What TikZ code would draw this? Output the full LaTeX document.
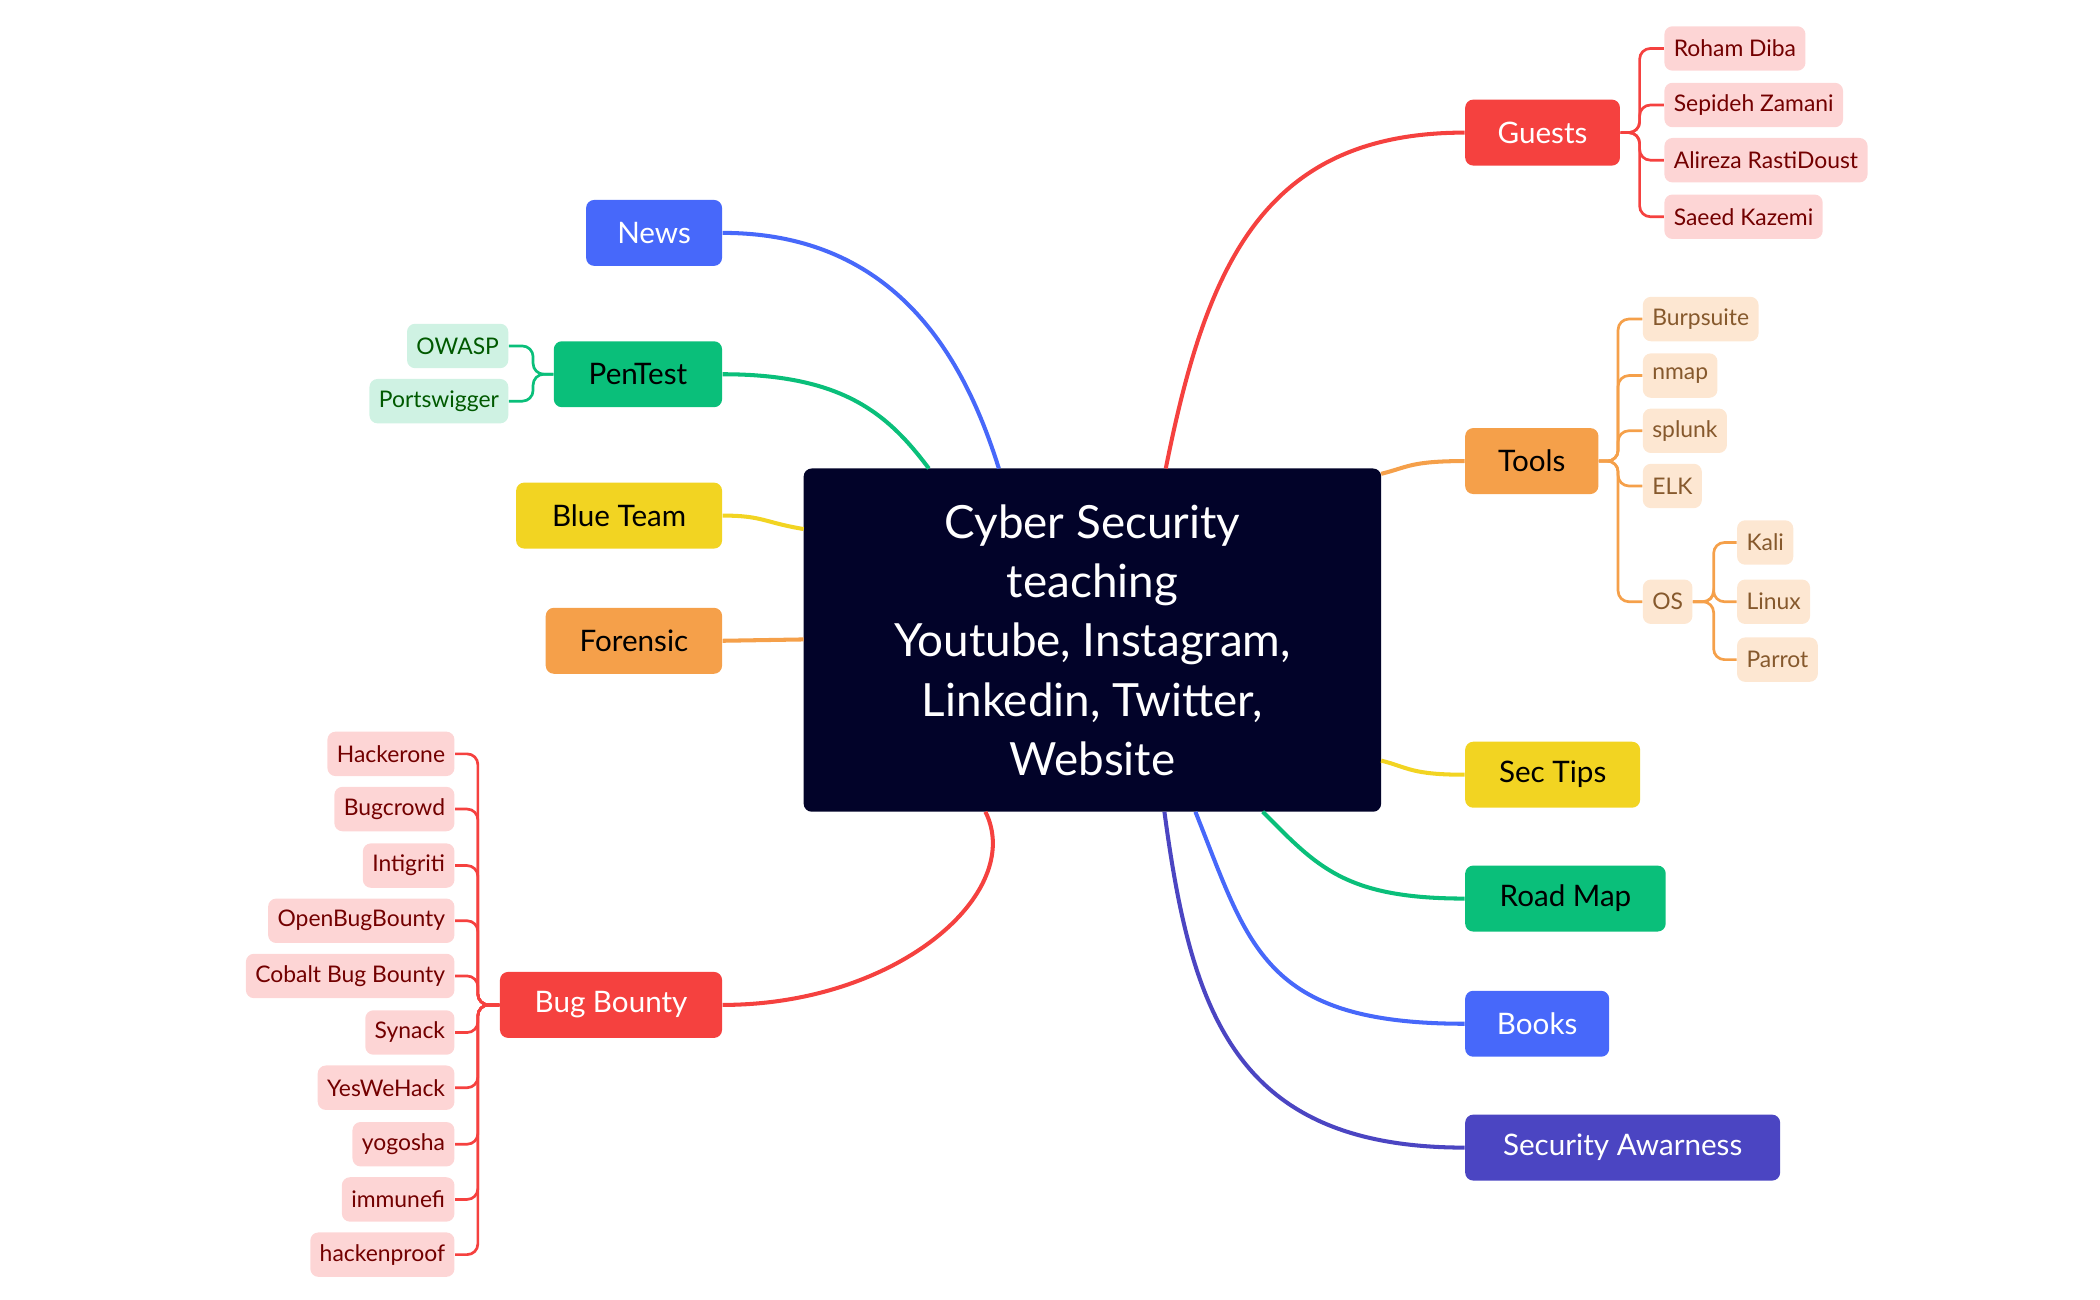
\documentclass[tikz,border=0pt]{standalone}
\usepackage{fontspec}
\setmainfont{Lato}
\definecolor{cred}{HTML}{F5413F}
\definecolor{cblue}{HTML}{4768FA}
\definecolor{cgreen}{HTML}{0ABF7A}
\definecolor{cyel}{HTML}{F2D422}
\definecolor{corg}{HTML}{F5A04A}
\definecolor{cind}{HTML}{4B45C2}
\definecolor{cnavy}{HTML}{020329}
\definecolor{lred}{HTML}{FDD5D5}
\definecolor{lorg}{HTML}{FDE7D2}
\definecolor{lgreen}{HTML}{CFF2E3}
\begin{document}
\begin{tikzpicture}[x=0.5pt,y=-0.5pt,
 main/.style={rounded corners=3pt,minimum height=24.5pt,font=\fontsize{11}{13}\selectfont,inner sep=0pt,anchor=west},
 leaf/.style={rounded corners=3pt,minimum height=16.5pt,font=\fontsize{8.5}{10}\selectfont,inner xsep=3.5pt,inner ysep=0pt},
 rl/.style={leaf,fill=lred,text=red!45!black,anchor=west},
 rlr/.style={leaf,fill=lred,text=red!45!black,anchor=east},
 ol/.style={leaf,fill=lorg,text=brown!70!black,anchor=west},
 gl/.style={leaf,fill=lgreen,text=green!35!black,anchor=east},
 con/.style={line width=1.5pt},
 br/.style={line width=1pt,rounded corners=4pt}]
\useasboundingbox (0,0) rectangle (1560,965);
% center
\node[fill=cnavy,text=white,rounded corners=3pt,minimum width=214.5pt,minimum height=127.5pt,align=center,font=\fontsize{17}{22}\selectfont,inner sep=0pt] (c) at (811.5,475.5) {Cyber Security\\teaching\\Youtube, Instagram,\\Linkedin, Twitter,\\Website};
% main nodes
\node[main,fill=cblue,text=white,minimum width=50.5pt] (news) at (435,173) {News};
\node[main,fill=cgreen,text=black,minimum width=62.5pt] (pen) at (411,278) {PenTest};
\node[main,fill=cyel,text=black,minimum width=76.5pt] (blue) at (383,383) {Blue Team};
\node[main,fill=corg,text=black,minimum width=65.5pt] (for) at (405,476) {Forensic};
\node[main,fill=cred,text=white,minimum width=82.5pt] (bug) at (371,746.5) {Bug Bounty};
\node[main,fill=cred,text=white,minimum width=57.5pt] (guests) at (1088,98.5) {Guests};
\node[main,fill=corg,text=black,minimum width=49.5pt] (tools) at (1088,342.5) {Tools};
\node[main,fill=cyel,text=black,minimum width=65pt] (sec) at (1088,575.5) {Sec Tips};
\node[main,fill=cgreen,text=black,minimum width=74.5pt] (road) at (1088,667.5) {Road Map};
\node[main,fill=cblue,text=white,minimum width=53.5pt] (books) at (1088,760.5) {Books};
\node[main,fill=cind,text=white,minimum width=117pt] (sa) at (1088,852.5) {Security Awarness};
% connectors
\coordinate (cN) at (742,348); \coordinate (cP) at (690,348); \coordinate (cB) at (597,393);
\coordinate (cF) at (597,475); \coordinate (cBB) at (732,603); \coordinate (cG) at (866,348);
\coordinate (cT) at (1026,352); \coordinate (cS) at (1026,565); \coordinate (cR) at (938,603);
\coordinate (cBo) at (888,603); \coordinate (cSA) at (865,603);
\draw[con,cblue] (news.east) .. controls +(130,0) and +(-25,-80) .. (cN);
\draw[con,cgreen] (pen.east) .. controls +(90,0) and +(-30,-40) .. (cP);
\draw[con,cyel] (blue.east) .. controls +(30,0) and +(-30,-5) .. (cB);
\draw[con,corg] (for.east) -- (cF);
\draw[con,cred] (bug.east) .. controls +(130,0) and +(30,60) .. (cBB);
\draw[con,cred] (guests.west) .. controls +(-150,0) and +(30,-150) .. (cG);
\draw[con,corg] (tools.west) .. controls +(-40,0) and +(20,-5) .. (cT);
\draw[con,cyel] (sec.west) .. controls +(-40,0) and +(20,5) .. (cS);
\draw[con,cgreen] (road.west) .. controls +(-90,0) and +(40,40) .. (cR);
\draw[con,cblue] (books.west) .. controls +(-150,0) and +(40,100) .. (cBo);
\draw[con,cind] (sa.west) .. controls +(-170,0) and +(20,150) .. (cSA);
% guests
\foreach \n/\t/\y in {g1/Roham Diba/36,g2/Sepideh Zamani/78,g3/Alireza RastiDoust/119,g4/Saeed Kazemi/161}{
 \node[rl] (\n) at (1236,\y) {\t};
 \draw[br,cred] (guests.east) -- (1218,98.5) |- (\n.west);}
% tools
\foreach \n/\t/\y in {t1/Burpsuite/237,t2/nmap/279,t3/splunk/320,t4/ELK/361,os/OS/447}{
 \node[ol] (\n) at (1220,\y) {\t};
 \draw[br,corg] (tools.east) -- (1202,342.5) |- (\n.west);}
\foreach \n/\t/\y in {o1/Kali/403,o2/Linux/447,o3/Parrot/490}{
 \node[ol] (\n) at (1290,\y) {\t};
 \draw[br,corg] (os.east) -- (1273,447) |- (\n.west);}
% pentest
\foreach \n/\t/\y in {p1/OWASP/257,p2/Portswigger/298}{
 \node[gl] (\n) at (378,\y) {\t};
 \draw[br,cgreen] (pen.west) -- (396,278) |- (\n.east);}
% bug bounty
\foreach \n/\t/\y in {b1/Hackerone/560,b2/Bugcrowd/601,b3/Intigriti/643,b4/OpenBugBounty/684,b5/Cobalt Bug Bounty/725,b6/Synack/767,b7/YesWeHack/808,b8/yogosha/850,b9/immunefi/891,b10/hackenproof/932}{
 \node[rlr] (\n) at (338,\y) {\t};
 \draw[br,cred] (bug.west) -- (355,746.5) |- (\n.east);}
\end{tikzpicture}
\end{document}
